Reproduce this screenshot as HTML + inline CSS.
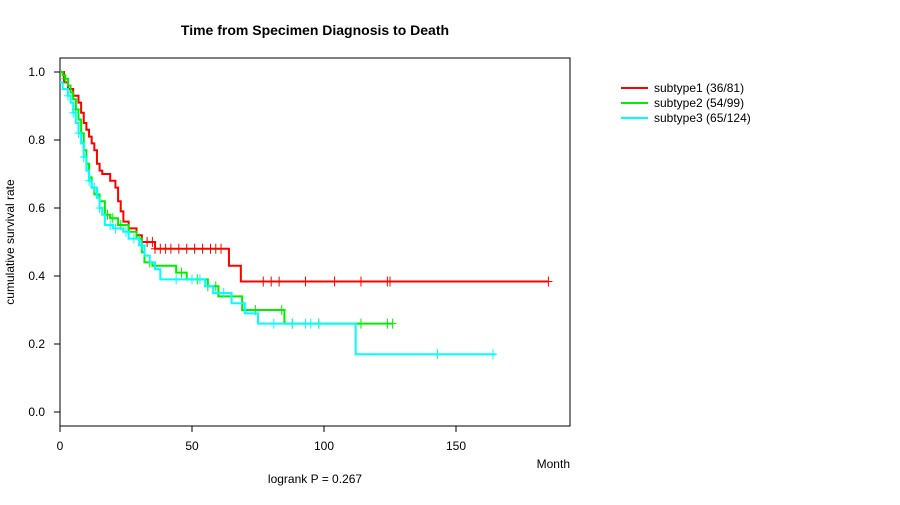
<!DOCTYPE html>
<html><head><meta charset="utf-8"><style>
body{margin:0;background:#fff;}
svg text{font-family:"Liberation Sans",sans-serif;font-size:12px;}
</style></head><body>
<svg id="chart" width="900" height="500" xmlns="http://www.w3.org/2000/svg">
<rect width="900" height="500" fill="#fff"/>
<text x="315" y="35" text-anchor="middle" style="font-size:14px;font-weight:bold">Time from Specimen Diagnosis to Death</text>
<rect x="60" y="58" width="510" height="368" fill="none" stroke="#000"/>
<g id="axes"></g>
<g id="series"></g>
<text x="570" y="468" text-anchor="end">Month</text>
<text transform="translate(14,242) rotate(-90)" text-anchor="middle">cumulative survival rate</text>
<text x="315" y="483" text-anchor="middle">logrank P = 0.267</text>
<g id="legend"></g>
</svg>
<script>
const xTicks=[0,50,100,150];
const yTicks=[0,0.2,0.4,0.6,0.8,1.0];
const seriesNames=["subtype1 (36/81)","subtype2 (54/99)","subtype3 (65/124)"];
const seriesColors=["#ff0000","#00ee00","#00ffff"];
const s1Times=[0,1.5,3,5,7,8,9,10,11,12,13,14,15,16,19,21,22,23,24,26,29,31,36,64,68.5,185];
const s1Surv=[1.0,0.97,0.95,0.93,0.91,0.88,0.85,0.83,0.81,0.79,0.77,0.73,0.71,0.70,0.68,0.66,0.62,0.59,0.56,0.54,0.52,0.50,0.48,0.43,0.384,0.384];
const s1Cens=[33,35,36,38,40,42,45,48,51,54,57,59,61,77,80,83,93,104,114,124,125,185];
const s2Times=[0,1,2,3,4,5,6,7,8,9,10,11,12,13,15,17,19,22,26,29,31,32,35,44,48,56,60,69,85,126];
const s2Surv=[1.0,0.99,0.98,0.96,0.94,0.92,0.89,0.86,0.82,0.77,0.73,0.69,0.66,0.64,0.62,0.58,0.57,0.55,0.53,0.51,0.47,0.44,0.43,0.41,0.39,0.37,0.34,0.30,0.26,0.26];
const s2Cens=[2,6,18,20,23,30,34,46,52,56,59,74,84,88,98,114,124,126];
const s3Times=[0,1,3,4,5,6,7,8,9,10,11,12,14,15,16,17,20,24,26,30,32,34,36,38,55,58,65,70,75,112,165];
const s3Surv=[0.97,0.95,0.93,0.91,0.88,0.85,0.82,0.79,0.75,0.71,0.68,0.66,0.63,0.60,0.58,0.55,0.54,0.53,0.51,0.49,0.46,0.44,0.42,0.39,0.37,0.35,0.32,0.29,0.26,0.17,0.17];
const s3Cens=[3,5,7,9,11,13,15,19,21,25,28,31,44,50,53,62,81,88,93,95,98,143,164];

const NS="http://www.w3.org/2000/svg";
const X=m=>60+m*2.64;
const Y=s=>412-s*340;
function mk(tag,attrs,parent){const e=document.createElementNS(NS,tag);for(const k in attrs)e.setAttribute(k,attrs[k]);parent.appendChild(e);return e;}
const axes=document.getElementById('axes');
xTicks.forEach(t=>{
  const l=mk('line',{x1:X(t),x2:X(t),y1:426,y2:432,stroke:'#000'},axes);
  
  
  const tx=mk('text',{x:X(t),y:450,'text-anchor':'middle'},axes);tx.textContent=t;
  
  
});
yTicks.forEach(t=>{
  const l=mk('line',{x1:54,x2:60,y1:Y(t),y2:Y(t),stroke:'#000'},axes);
  
  
  const tx=mk('text',{x:45,y:Y(t)+4,'text-anchor':'end'},axes);tx.textContent=t.toFixed(1);
  
  
});
const sg=document.getElementById('series');
const all=[[s1Times,s1Surv,s1Cens],[s2Times,s2Surv,s2Cens],[s3Times,s3Surv,s3Cens]];
function survAt(T,S,t){let v=S[0];for(let i=0;i<T.length;i++){if(T[i]<=t)v=S[i];}return v;}
all.forEach(([T,S,C],k)=>{
  let d='M'+X(T[0])+','+Y(S[0]);
  for(let i=1;i<T.length;i++){d+=' H'+X(T[i])+' V'+Y(S[i]);}
  const p=mk('path',{d:d,fill:'none',stroke:seriesColors[k],'stroke-width':2},sg);
  
  
  C.forEach(c=>{
    const y=Y(survAt(T,S,c)),x=X(c);
    const g=mk('path',{d:`M${x-4},${y} H${x+4} M${x},${y-5} V${y+5}`,stroke:seriesColors[k],'stroke-width':1},sg);
    
    
  });
});
const lg=document.getElementById('legend');
seriesNames.forEach((n,k)=>{
  const y=88+k*15;
  const l=mk('line',{x1:621,x2:648,y1:y,y2:y,stroke:seriesColors[k],'stroke-width':2},lg);
  
  
  const t=mk('text',{x:654,y:y+4},lg);t.textContent=n;
  
  
});
</script>
</body></html>
